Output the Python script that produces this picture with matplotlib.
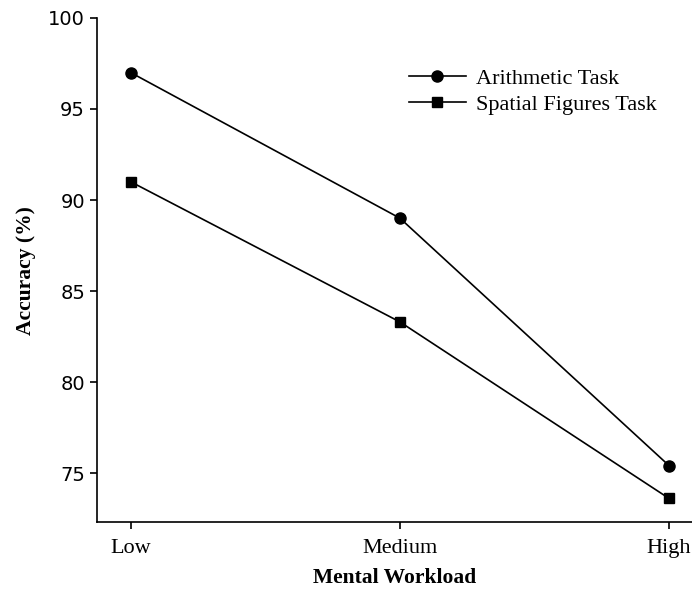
import matplotlib.pyplot as plt

# data
workload = ["Low", "Medium", "High"]
arithmetic = [97.0, 89.0, 75.4]
spatial = [91.0, 83.3, 73.6]

fig = plt.figure(figsize=(6.92, 5.90), dpi=100)
ax = fig.add_axes([0.140, 0.115, 0.860, 0.8545])

x = list(range(len(workload)))
ax.plot(x, arithmetic, color="black", linewidth=1.2, marker="o", markersize=8,
        label="Arithmetic Task")
ax.plot(x, spatial, color="black", linewidth=1.2, marker="s", markersize=7.5,
        label="Spatial Figures Task")

ax.set_xlim(-0.126, 2.085)
ax.set_ylim(72.3, 100)
ax.set_yticks([75, 80, 85, 90, 95, 100])
ax.set_xticks(x)
ax.set_xticklabels(workload, fontfamily="Liberation Serif", fontsize=16)
for lab in ax.get_yticklabels():
    lab.set_fontfamily("DejaVu Sans")
    lab.set_fontsize(14)

ax.spines["top"].set_visible(False)
ax.spines["right"].set_visible(False)
ax.spines["left"].set_linewidth(1.2)
ax.spines["bottom"].set_linewidth(1.2)
ax.tick_params(direction="out", length=5, width=1.2)
ax.tick_params(axis="x", pad=7)

ax.set_xlabel("Mental Workload", fontfamily="Liberation Serif", fontweight="bold",
              fontsize=15.5, labelpad=7)
ax.set_ylabel("Accuracy (%)", fontfamily="Liberation Serif", fontweight="bold",
              fontsize=15.5, labelpad=9)

ax.legend(loc="upper right", bbox_to_anchor=(0.975, 0.94), frameon=False,
          prop={"family": "Liberation Serif", "size": 16}, handlelength=2.6,
          handletextpad=0.45, labelspacing=0.25)

fig.savefig("out.png", dpi=100)
